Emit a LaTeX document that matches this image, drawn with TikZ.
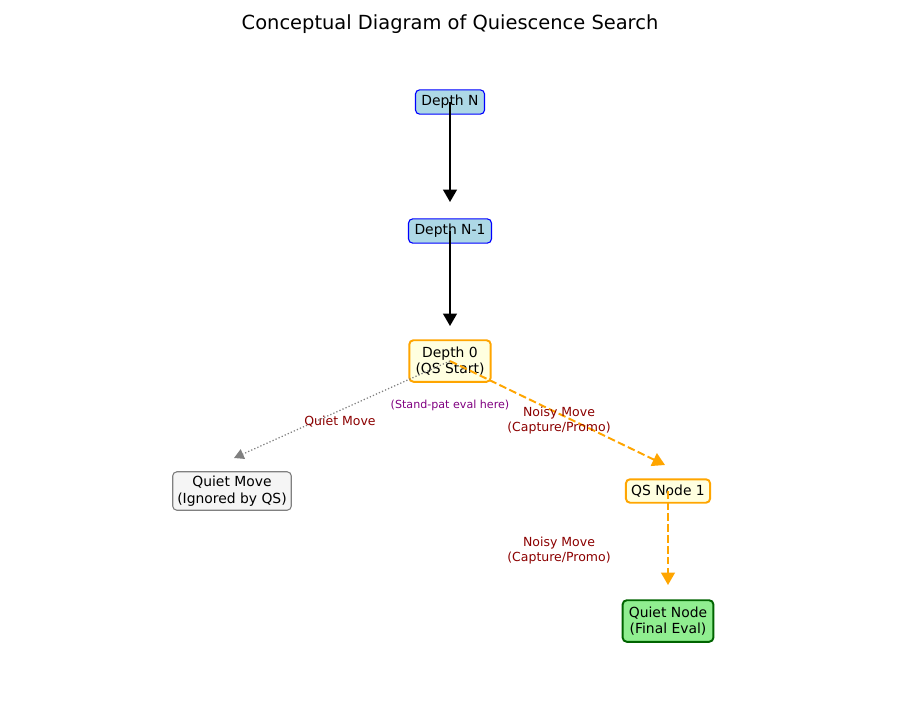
\documentclass[tikz,border=0pt]{standalone}
\usepackage{fontspec}
\setmainfont{DejaVu Sans}
\usetikzlibrary{arrows.meta}
\definecolor{lblue}{HTML}{ADD8E6}
\definecolor{lyellow}{HTML}{FFFFE0}
\definecolor{wsmoke}{HTML}{F5F5F5}
\definecolor{lgreen}{HTML}{90EE90}
\definecolor{dgreen}{HTML}{006400}
\definecolor{dred}{HTML}{8B0000}
\definecolor{orng}{HTML}{FFA500}
\definecolor{purp}{HTML}{800080}

\begin{document}
\begin{tikzpicture}[x=0.72pt,y=-0.72pt,
  box/.style={draw,rounded corners=3pt,inner xsep=4.3pt,inner ysep=3.9pt,align=center,line width=0.8pt,
    font=\fontsize{10}{12}\selectfont},
  bigbox/.style={box,inner sep=4.5pt,line width=1.4pt},
  lbl/.style={text=dred,align=center,font=\fontsize{9}{10.8}\selectfont},
  solidarr/.style={line width=1.4pt,-{Triangle[width=10pt,length=9pt]}},
  noisyarr/.style={orng,line width=1.4pt,dash pattern=on 5.5pt off 2.4pt,
    -{Triangle[width=10pt,length=9pt]}},
  quietarr/.style={gray,line width=0.9pt,dash pattern=on 0.9pt off 1.5pt,
    -{Triangle[width=7.5pt,length=7pt]}}]
\useasboundingbox (0,0) rectangle (900,700);
\node[font=\fontsize{14}{16.8}\selectfont] (title) at (450,24) {Conceptual Diagram of Quiescence Search};
\node[box,fill=lblue,draw=blue] (dn) at (450,102) {Depth N};
\node[box,fill=lblue,draw=blue] (dn1) at (450,231) {Depth N-1};
\node[bigbox,fill=lyellow,draw=orng] (d0) at (450,361) {Depth 0\\(QS Start)};
\node[box,inner xsep=3.3pt,inner ysep=3pt,fill=wsmoke,draw=gray] (qm) at (232,491) {Quiet Move\\(Ignored by QS)};
\node[box,inner xsep=3.8pt,inner ysep=4pt,line width=1.4pt,fill=lyellow,draw=orng] (qs1) at (668,491) {QS Node 1};
\node[bigbox,fill=lgreen,draw=dgreen] (qn) at (668,621) {Quiet Node\\(Final Eval)};
\coordinate (t1) at (450,202);
\coordinate (t2) at (450,326);
\coordinate (t3) at (234,458);
\coordinate (t4) at (665,465);
\coordinate (t5) at (668,585);
\draw[solidarr] (dn.center) -- (t1);
\draw[solidarr] (dn1.center) -- (t2);
\draw[quietarr] (d0.center) -- (t3);
\draw[noisyarr] (d0.center) -- (t4);
\draw[noisyarr] (qs1.center) -- (t5);
\node[lbl] (lq) at (340,422) {Quiet Move};
\node[text=purp,font=\fontsize{8}{9.6}\selectfont] (sp) at (450,405) {(Stand-pat eval here)};
\node[lbl] (ln1) at (559,421) {Noisy Move\\(Capture/Promo)};
\node[lbl] (ln2) at (559,551) {Noisy Move\\(Capture/Promo)};
\end{tikzpicture}
\end{document}
